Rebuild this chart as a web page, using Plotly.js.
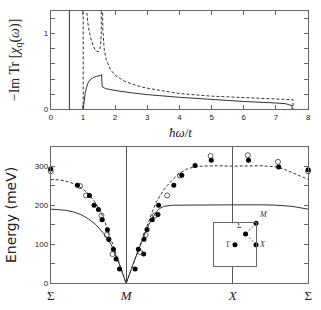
<!DOCTYPE html>
<html>
<head>
<meta charset="utf-8">
<script src="https://cdn.plot.ly/plotly-3.0.1.min.js"></script>
<style>html,body{margin:0;padding:0;background:#fff;}#chart{width:321px;height:310px;}</style>
</head>
<body>
<div id="chart"></div>
<script>
// ---------- top panel: -Im Tr[chi_q(omega)] vs hbar*omega/t ----------
const omegaSolid = [0.58, 0.58, null, 1.01, 1.03, 1.07, 1.12, 1.17, 1.25, 1.32, 1.42, 1.53, 1.58, 1.6, 1.7, 1.85, 2.0, 2.5, 3.0, 4.0, 5.0, 6.0, 7.0, 7.3, 7.5, 7.5];
const chiSolid   = [0, 2, null, 0, 0.1, 0.21, 0.3, 0.36, 0.4, 0.42, 0.435, 0.445, 0.46, 0.3, 0.275, 0.26, 0.25, 0.22, 0.195, 0.16, 0.13, 0.105, 0.085, 0.075, 0.05, 0];
const omegaDashed = [1.01, 1.01, null, 1.1, 1.12, 1.15, 1.2, 1.27, 1.35, 1.42, 1.47, 1.52, 1.55, 1.57, 1.58, null, 1.59, 1.62, 1.66, 1.72, 1.85, 2.0, 2.3, 2.7, 3.0, 3.5, 4.0, 5.0, 6.0, 7.0, 7.53, 7.53];
const chiDashed   = [0, 2, null, 2, 1.3, 1.15, 1.02, 0.9, 0.81, 0.77, 0.76, 0.78, 0.85, 1.0, 2, null, 2, 1.05, 0.8, 0.66, 0.53, 0.45, 0.37, 0.31, 0.28, 0.24, 0.21, 0.175, 0.155, 0.14, 0.128, 0];
const topXTicks = [0, 1, 2, 3, 4, 5, 6, 7, 8];
const topXLabels = ['0', '1', '2', '3', '4', '5', '6', '7', '8'];
const topYTicks = [0, 0.2, 0.4, 0.6, 0.8, 1.0, 1.2];
const topYLabels = ['0', '', '', '', '', '1', ''];

// ---------- bottom panel: dispersion along Sigma-M-X-Sigma ----------
// path coordinate: Sigma=0, M=1, X=1+sqrt(2), Sigma=2+sqrt(2)
const pathTicks = [0, 1, 2.414, 3.414];
const pathLabels = ['Σ', '<i>M</i>', '<i>X</i>', 'Σ'];
const solidK = [0, 0.2, 0.3, 0.4, 0.5, 0.6, 0.7, 0.75, 0.8, 0.9, 1.0, 1.1, 1.18, 1.25, 1.3, 1.35, 1.4, 1.45, 1.5, 1.6, 2.0, 2.414, 2.8, 3.0, 3.2, 3.3, 3.414];
const solidE = [190, 187, 183, 176, 165, 150, 128, 115, 100, 54, 0, 53, 95, 128, 150, 168, 183, 192, 197, 200, 201, 201, 201, 200, 197, 194, 190];
const dashedK = [0, 0.1, 0.2, 0.35, 0.5, 0.6, 0.7, 0.8, 0.9, 1.0, 1.2, 1.35, 1.4, 1.45, 1.5, 1.55, 1.6, 1.7, 1.8, 1.9, 2.0, 2.2, 2.414, 2.8, 3.0, 3.1, 3.2, 3.3, 3.414];
const dashedE = [266, 265, 262, 252, 230, 205, 168, 115, 57, 0, 107, 185, 208, 226, 240, 251, 262, 281, 292, 298, 300, 301, 300, 301, 298, 292, 284, 276, 266];
const filledK = [0, 0.354, 0.513, 0.575, 0.633, 0.681, 0.752, 0.770, 0.832, 0.867, 0.912, 1.119, 1.162, 1.233, 1.237, 1.277, 1.347, 1.422, 1.431, 1.632, 1.738, 1.914, 2.129, 2.623, 3.023, 3.414];
const filledE = [293, 251, 225, 200, 189, 163, 137, 112, 87, 62, 37, 37, 87, 75, 113, 138, 163, 176, 200, 251, 277, 302, 315, 315, 298, 291];
const openK = [0, 0.389, 0.469, 0.673, 0.743, 0.819, 1.184, 1.259, 1.382, 1.545, 1.712, 2.120, 2.614, 3.014, 3.414];
const openE = [287, 249, 225, 174, 124, 75, 80, 124, 174, 225, 276, 326, 328, 311, 287];
const energyTicks = [0, 50, 100, 150, 200, 250, 300, 350];
const energyLabels = ['0', '', '100', '', '200', '', '300', ''];

// ---------- inset: Brillouin-zone sketch (k in units of pi) ----------
const bzNames = ['Γ', 'Σ', '<i>M</i>', '<i>X</i>'];
const bzKx = [0, 0.5, 1, 1];
const bzKy = [0, 0.5, 1, 0];
const bzLabelPos = ['middle left', 'top left', 'top right', 'middle right'];
const bzPathKx = [1, 0.5, 1];
const bzPathKy = [1, 0.5, 0];

const lineCol = '#333';
const frameCol = '#666';
const tickFont = {family: 'Liberation Sans, Arial, sans-serif', size: 8, color: '#222'};
const serif = 'Liberation Serif, Times New Roman, serif';

const traces = [
  {x: omegaSolid, y: chiSolid, xaxis: 'x', yaxis: 'y', mode: 'lines', line: {color: lineCol, width: 1}, connectgaps: false, hoverinfo: 'skip'},
  {x: omegaDashed, y: chiDashed, xaxis: 'x', yaxis: 'y', mode: 'lines', line: {color: lineCol, width: 1, dash: '3px,2px'}, connectgaps: false, hoverinfo: 'skip'},
  {x: solidK, y: solidE, xaxis: 'x2', yaxis: 'y2', mode: 'lines', line: {color: lineCol, width: 1}, hoverinfo: 'skip'},
  {x: dashedK, y: dashedE, xaxis: 'x2', yaxis: 'y2', mode: 'lines', line: {color: lineCol, width: 1, dash: '3px,2px'}, hoverinfo: 'skip'},
  {x: openK, y: openE, xaxis: 'x2', yaxis: 'y2', mode: 'markers', cliponaxis: false, marker: {symbol: 'circle-open', size: 5, color: '#333', line: {width: 0.8}}, hoverinfo: 'skip'},
  {x: filledK, y: filledE, xaxis: 'x2', yaxis: 'y2', mode: 'markers', cliponaxis: false, marker: {symbol: 'circle', size: 5, color: '#000'}, hoverinfo: 'skip'},
  {x: bzPathKx, y: bzPathKy, xaxis: 'x3', yaxis: 'y3', mode: 'lines', cliponaxis: false, line: {color: lineCol, width: 0.8, dash: '2px,2px'}, hoverinfo: 'skip'},
  {x: bzKx, y: bzKy, xaxis: 'x3', yaxis: 'y3', mode: 'markers+text', cliponaxis: false, text: bzNames, textposition: bzLabelPos, textfont: {family: serif, size: 8, color: '#333'}, marker: {symbol: 'circle', size: 5, color: '#000'}, hoverinfo: 'skip'}
];
const axBase = {showline: true, linecolor: frameCol, linewidth: 1, mirror: true, zeroline: false, showgrid: false, tickfont: tickFont, fixedrange: true};
const layout = {
  width: 321, height: 310, margin: {l: 0, r: 0, t: 0, b: 0}, paper_bgcolor: '#ffffff', plot_bgcolor: '#ffffff', showlegend: false,
  xaxis: Object.assign({}, axBase, {domain: [0.158, 0.960], anchor: 'y', range: [0, 8], tickvals: topXTicks, ticktext: topXLabels, ticks: 'inside', ticklen: 4, tickcolor: frameCol, mirror: 'ticks'}),
  yaxis: Object.assign({}, axBase, {domain: [0.647, 0.965], anchor: 'x', range: [0, 1.3], tickvals: topYTicks, ticktext: topYLabels, ticks: 'inside', ticklen: 4, tickcolor: frameCol, mirror: 'ticks'}),
  xaxis2: Object.assign({}, axBase, {domain: [0.158, 0.960], anchor: 'y2', range: [0, 3.414], tickvals: pathTicks, ticktext: pathLabels, ticks: '', tickfont: {family: serif, size: 13, color: '#222'}, showgrid: true, gridcolor: '#555', gridwidth: 1}),
  yaxis2: Object.assign({}, axBase, {domain: [0.086, 0.527], anchor: 'x2', range: [0, 350], tickvals: energyTicks, ticktext: energyLabels, ticks: 'inside', ticklen: 4, tickcolor: frameCol, mirror: 'ticks'}),
  xaxis3: {domain: [0.6667, 0.7975], anchor: 'y3', range: [-1, 1], showline: true, linecolor: frameCol, linewidth: 1, mirror: true, showticklabels: false, ticks: '', showgrid: false, zeroline: false, fixedrange: true},
  yaxis3: {domain: [0.1419, 0.2797], anchor: 'x3', range: [-1, 1], showline: true, linecolor: frameCol, linewidth: 1, mirror: true, showticklabels: false, ticks: '', showgrid: false, zeroline: false, fixedrange: true},
  annotations: [
    {text: '−Im Tr [<i>χ</i><sub>q</sub>(<i>ω</i>)]', xref: 'paper', yref: 'paper', x: 0.047, y: 0.806, xanchor: 'center', yanchor: 'middle', textangle: -90, showarrow: false, font: {family: serif, size: 14, color: '#222'}},
    {text: '<i>ħω</i>/<i>t</i>', xref: 'paper', yref: 'paper', x: 0.561, y: 0.571, xanchor: 'center', yanchor: 'middle', showarrow: false, font: {family: serif, size: 13, color: '#222'}},
    {text: 'Energy (meV)', xref: 'paper', yref: 'paper', x: 0.036, y: 0.305, xanchor: 'center', yanchor: 'middle', textangle: -90, showarrow: false, font: {family: 'DejaVu Sans, sans-serif', size: 14, color: '#222'}}
  ]
};
Plotly.newPlot('chart', traces, layout, {staticPlot: true, displayModeBar: false});
</script>
</body>
</html>
